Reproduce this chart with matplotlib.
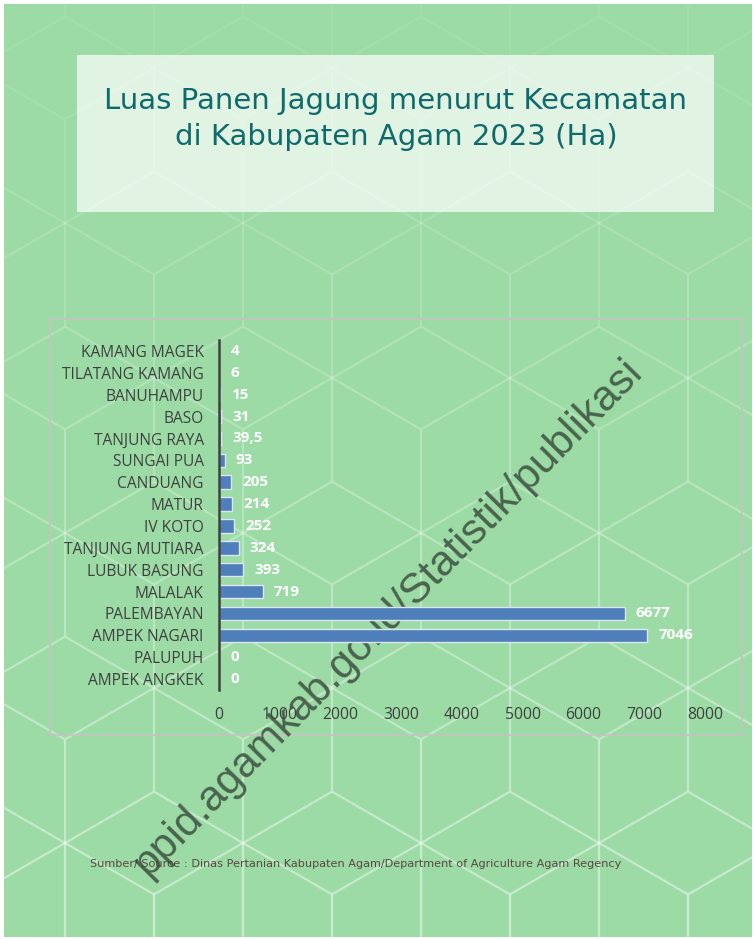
import numpy as np
import matplotlib.pyplot as plt
from matplotlib.collections import LineCollection
from matplotlib.patches import Rectangle

# Data
kecamatan = ["KAMANG MAGEK", "TILATANG KAMANG", "BANUHAMPU", "BASO", "TANJUNG RAYA",
             "SUNGAI PUA", "CANDUANG", "MATUR", "IV KOTO", "TANJUNG MUTIARA",
             "LUBUK BASUNG", "MALALAK", "PALEMBAYAN", "AMPEK NAGARI", "PALUPUH",
             "AMPEK ANGKEK"]
luas_panen = [4, 6, 15, 31, 39.5, 93, 205, 214, 252, 324, 393, 719, 6677, 7046, 0, 0]
x_ticks = [0, 1000, 2000, 3000, 4000, 5000, 6000, 7000, 8000]

title = "Luas Panen Jagung menurut Kecamatan\ndi Kabupaten Agam 2023 (Ha)"
sumber = ("Sumber/ Source : Dinas Pertanian Kabupaten Agam/Department of "
          "Agriculture Agam Regency")
watermark = "ppid.agamkab.go.id/Statistik/publikasi"

W, H = 754, 939
fig = plt.figure(figsize=(W / 100, H / 100), dpi=100, facecolor="white")

# background layer in pixel coordinates
bg = fig.add_axes([0, 0, 1, 1])
bg.set_xlim(0, W)
bg.set_ylim(H, 0)
bg.axis("off")
page = Rectangle((4, 4), 748, 933, facecolor="#9CDBA5", edgecolor="none", zorder=0)
bg.add_patch(page)

# hexagon spoke pattern (fainter at the top)
R = 178 / np.sqrt(3)
segs, cols = [], []
for j in range(-2, 7):
    for i in range(-1, 6):
        cx = 65 + 178 * i + 89 * (j % 2)
        cy = 223 + 155 * j
        for ang in [30, 90, 150, 210, 270, 330]:
            a = np.radians(ang)
            ex, ey = cx + R * np.cos(a), cy + R * np.sin(a)
            segs.append([(cx, cy), (ex, ey)])
            ym = (cy + ey) / 2
            cols.append((1, 1, 1, min(0.5, max(0.08, 0.05 + 0.42 * ym / H))))
lc = LineCollection(segs, colors=cols, linewidths=1.6, zorder=1)
lc.set_clip_path(page)
bg.add_collection(lc)

# title box
bg.add_patch(Rectangle((77, 55), 637, 157, facecolor="white", alpha=0.7,
                       edgecolor="none", zorder=2))
bg.text(396, 119, title, ha="center", va="center", fontsize=21,
        color="#0F6B6B", linespacing=1.35, zorder=3)

# chart border
bg.add_patch(Rectangle((50, 319), 692, 416, facecolor="none",
                       edgecolor="#C4C4C4", linewidth=1.2, zorder=2))

# source text
bg.text(90, 864, sumber, ha="left", va="center", fontsize=8.1,
        color="#5A4646", zorder=3)

# bar chart
ax = fig.add_axes([219 / W, 1 - 690 / H, 486 / W, 350 / H])
ax.set_facecolor("none")
ypos = np.arange(len(kecamatan))
ax.barh(ypos, luas_panen, height=0.62, color="#4F7FBA",
        edgecolor="#DCE6F2", linewidth=1.0, zorder=3)
for y, v in zip(ypos, luas_panen):
    lab = f"{v:g}".replace(".", ",")
    ax.annotate(lab, (v, y), xytext=(8, 0), textcoords="offset points",
                ha="left", va="center", color="white", fontsize=11,
                fontweight="bold", family="Open Sans", zorder=4)
ax.set_xlim(0, 8000)
ax.set_ylim(len(kecamatan) - 0.5, -0.5)
ax.set_yticks(ypos)
ax.set_yticklabels(kecamatan, family="Open Sans", fontsize=11.2, color="#404040")
ax.set_xticks(x_ticks)
ax.set_xticklabels([str(t) for t in x_ticks], family="Open Sans",
                   fontsize=11.3, color="#404040")
ax.tick_params(axis="both", length=0)
ax.tick_params(axis="y", pad=11)
ax.tick_params(axis="x", pad=12)
for s in ["top", "right", "bottom"]:
    ax.spines[s].set_visible(False)
ax.spines["left"].set_color("#404040")
ax.spines["left"].set_linewidth(1.8)
ax.spines["left"].set_zorder(5)

# watermark
bg.text(388, 618, watermark, rotation=45.5, rotation_mode="anchor",
        ha="center", va="center", fontsize=30.5, family="Liberation Sans",
        color="#2E3A30", alpha=0.75, zorder=10)

fig.savefig("out.png", dpi=100, facecolor="white")
